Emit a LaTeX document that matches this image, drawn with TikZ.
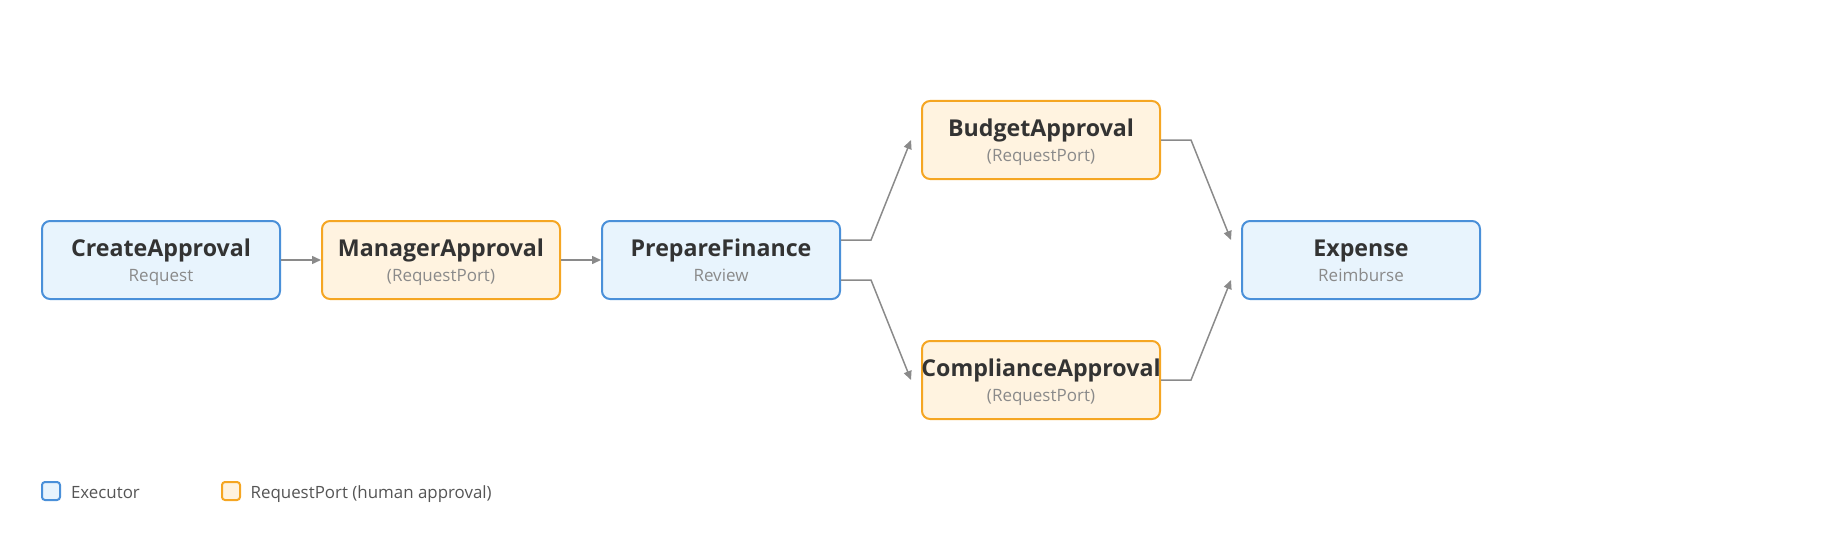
\documentclass[tikz,border=0pt]{standalone}
\usepackage{fontspec}
\setmainfont{Open Sans}
\usetikzlibrary{arrows.meta,positioning}

\definecolor{execfill}{HTML}{E8F4FD}
\definecolor{execdraw}{HTML}{4A90D9}
\definecolor{portfill}{HTML}{FFF3E0}
\definecolor{portdraw}{HTML}{F5A623}
\definecolor{titlecol}{HTML}{333333}
\definecolor{subcol}{HTML}{8A8A8A}
\definecolor{linecol}{HTML}{8A8A8A}
\definecolor{legendcol}{HTML}{555555}

\tikzset{
  exec/.style = {draw=execdraw, fill=execfill},
  port/.style = {draw=portdraw, fill=portfill},
  stepbox/.style = {rounded corners=4pt, line width=1pt, minimum width=119pt, minimum height=39pt, inner sep=0pt},
  steptitle/.style = {anchor=base, inner sep=0pt, text=titlecol, font=\fontsize{11.6}{13}\selectfont\bfseries},
  stepsub/.style = {anchor=base, inner sep=0pt, text=subcol, font=\fontsize{8.5}{10}\selectfont},
  legbox/.style = {rounded corners=1.5pt, line width=1pt, minimum size=9pt, inner sep=0pt},
  legtext/.style = {anchor=base west, inner sep=0pt, text=legendcol, font=\fontsize{8.45}{10}\selectfont},
  flow/.style = {draw=linecol, line width=0.75pt, -{Triangle[length=4.5pt,width=4pt]}},
}

% box with a title and a grey second line
\newcommand{\flowstep}[5]{%
  \node[stepbox, #1] (#2) at (#3) {};
  \node[steptitle] (#2-title) at ([yshift=2pt]#2.center) {#4};
  \node[stepsub] (#2-sub) at ([yshift=-10.85pt]#2.center) {#5};
}

\begin{document}
\begin{tikzpicture}[x=0.5pt,y=-0.5pt]
\useasboundingbox (0,0) rectangle (1840,540);

% steps
\flowstep{exec}{create}{161,260}{CreateApproval}{Request}
\flowstep{port}{manager}{441,260}{ManagerApproval}{(RequestPort)}
\flowstep{exec}{prepare}{721,260}{PrepareFinance}{Review}
\flowstep{port}{budget}{1041,140}{BudgetApproval}{(RequestPort)}
\flowstep{port}{compliance}{1041,380}{ComplianceApproval}{(RequestPort)}
\flowstep{exec}{expense}{1361,260}{Expense}{Reimburse}

% connectors
\draw[flow] (create) -- (manager);
\draw[flow] (manager) -- (prepare);
\draw[flow] ([yshift=10pt]prepare.east) -- ++(15pt,0) -- ([xshift=-5pt]budget.west);
\draw[flow] ([yshift=-10pt]prepare.east) -- ++(15pt,0) -- ([xshift=-5pt]compliance.west);
\draw[flow] (budget.east) -- ++(15pt,0) -- ([xshift=-5pt,yshift=10pt]expense.west);
\draw[flow] (compliance.east) -- ++(15pt,0) -- ([xshift=-5pt,yshift=-10pt]expense.west);

% legend
\node[legbox, exec] (legexec) at (51,491) {};
\node[legtext] (legexec-text) at ([xshift=4.8pt,yshift=-3.5pt]legexec.east) {Executor};
\node[legbox, port] (legport) at (231,491) {};
\node[legtext] (legport-text) at ([xshift=4.6pt,yshift=-3.5pt]legport.east) {RequestPort (human approval)};

\end{tikzpicture}
\end{document}
